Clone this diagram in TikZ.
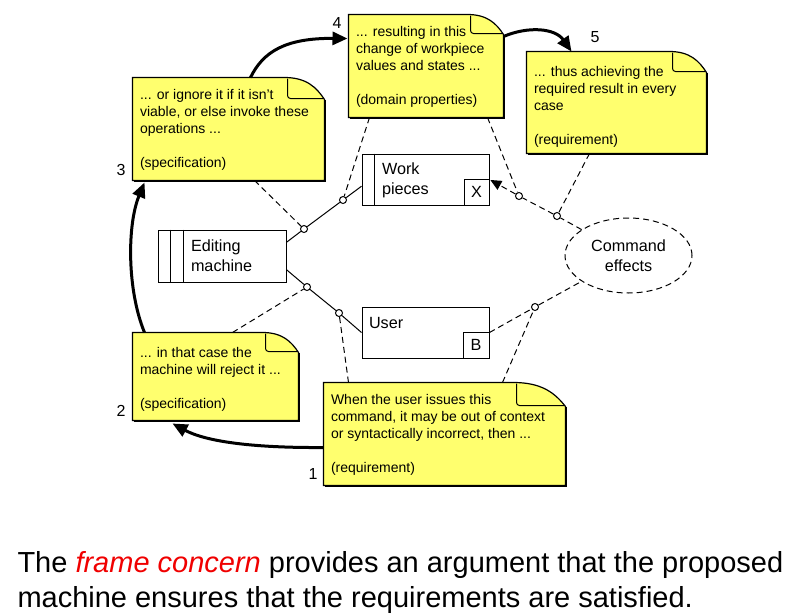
\documentclass[tikz,border=0pt]{standalone}
\usepackage{fontspec}
\setmainfont{Liberation Sans}
\usetikzlibrary{arrows.meta,calc,shapes.geometric}
\definecolor{notefill}{RGB}{255,255,110}
\definecolor{concern}{RGB}{240,0,0}

% note outline with a turned-down corner: node, fold width, fold height
\newcommand{\dogear}[3]{%
  \fill[notefill, draw=black, line width=1.2pt] (#1.north west) -- ($(#1.north east)+(-#2,0)$)
    .. controls ($(#1.north east)+(-0.45*#2,0)$) and ($(#1.north east)+(-0.2*#2,0.45*#3)$) .. ($(#1.north east)+(0,#3)$)
    -- (#1.south east) -- (#1.south west) -- cycle;
  \draw[line width=1pt, rounded corners=3pt] ($(#1.north east)+(-#2+3,1)$) -- ($(#1.north east)+(-#2+3,#3-1)$) -- ($(#1.north east)+(-1,#3-1)$);
  \draw[line width=1.3pt] ($(#1.south west)+(1,1)$) -- ($(#1.south east)+(1,1)$) -- ($(#1.north east)+(1,#3)$);
}

\begin{document}
\begin{tikzpicture}[x=1pt, y=-1pt, line width=1pt,
  note/.style={inner sep=0pt},
  notetext/.style={anchor=north west, inner sep=0pt, align=left, font=\fontsize{14}{17}\selectfont},
  box/.style={draw, inner sep=0pt, minimum height=52pt},
  boxtext/.style={anchor=north west, inner sep=0pt, align=left, font=\fontsize{16.2}{19.5}\selectfont},
  tag/.style={draw, inner sep=0pt, minimum size=26pt, font=\fontsize{16.2}{19.5}\selectfont},
  joint/.style={circle, draw, fill=white, inner sep=0pt, minimum size=7pt},
  link/.style={dash pattern=on 6pt off 4pt},
  flow/.style={line width=3pt, -{Triangle[length=15pt,width=13pt]}},
  num/.style={font=\fontsize{16}{19}\selectfont}]
  \useasboundingbox (0,0) rectangle (788,616);

  % notes
  \node[note, minimum width=191pt, minimum height=102pt] (spec3) at (228.5,129) {};
  \node[note, minimum width=154pt, minimum height=102pt] (dom4) at (426,66) {};
  \node[note, minimum width=179pt, minimum height=101pt] (req5) at (616.5,102.5) {};
  \node[note, minimum width=165pt, minimum height=87pt] (spec2) at (215.5,376.5) {};
  \node[note, minimum width=241pt, minimum height=102pt] (req1) at (444.5,434) {};
  \dogear{spec3}{40}{22}
  \dogear{dom4}{36}{20}
  \dogear{req5}{37}{21}
  \dogear{spec2}{36}{20}
  \dogear{req1}{52}{24}
  \node[notetext] (spec3t) at ($(spec3.north west)+(7,9.6)$) {\strut... or ignore it if it isn't\\viable, or else invoke these\\operations ...\\[17pt](specification)};
  \node[notetext] (dom4t) at ($(dom4.north west)+(7,9.6)$) {\strut... resulting in this\\change of workpiece\\values and states ...\\[17pt](domain properties)};
  \node[notetext] (req5t) at ($(req5.north west)+(7,12.6)$) {\strut... thus achieving the\\required result in every\\case\\[17pt](requirement)};
  \node[notetext] (spec2t) at ($(spec2.north west)+(7,12.6)$) {\strut... in that case the\\machine will reject it ...\\[17pt](specification)};
  \node[notetext] (req1t) at ($(req1.north west)+(7,9.6)$) {\strut When the user issues this\\command, it may be out of context\\or syntactically incorrect, then ...\\[17pt](requirement)};

  % domains
  \node[box, minimum width=128pt] (edit) at (222,256) {};
  \draw ($(edit.north west)+(13,0)$) -- ($(edit.south west)+(13,0)$);
  \draw ($(edit.north west)+(26,0)$) -- ($(edit.south west)+(26,0)$);
  \node[boxtext] (editt) at ($(edit.north west)+(33,7.9)$) {\strut Editing\\machine};
  \node[box, minimum width=127pt, minimum height=51pt] (work) at (425.5,179.5) {};
  \draw ($(work.north west)+(13,0)$) -- ($(work.south west)+(13,0)$);
  \node[boxtext] (workt) at ($(work.north west)+(20,6.9)$) {\strut Work\\pieces};
  \node[tag, anchor=south east, minimum width=25pt] (workx) at (work.south east) {X};
  \node[box, minimum width=127pt, minimum height=51pt] (user) at (425.5,332.5) {};
  \node[boxtext] (usert) at ($(user.north west)+(7,7.9)$) {\strut User};
  \node[tag, anchor=south east] (userb) at (user.south east) {B};
  \node[ellipse, draw, link, inner sep=2pt, minimum width=127pt, minimum height=75pt,
        align=center, font=\fontsize{16.2}{19.5}\selectfont] (effects) at (628.5,255.5) {Command\\effects};

  % interfaces
  \node[joint] (cA) at (304,229) {};
  \node[joint] (cB) at (343,200) {};
  \node[joint] (cC) at (307,287) {};
  \node[joint] (cD) at (339,313) {};
  \node[joint] (cE) at (535,307) {};
  \node[joint] (cF) at (519,196) {};
  \node[joint] (cG) at (557,216) {};
  \draw (edit.12) -- (cA) -- (cB) -- (work.186);
  \draw (edit.-12) -- (cC) -- (cD) -- (user.west);
  \draw[link] (user.east) -- (cE) -- (effects);
  \draw[link] (effects) -- (cG) -- (cF);
  \draw[link, -{Triangle[length=11pt,width=10pt]}, shorten >=1pt] (cF) -- (work.east);

  % notes to interfaces
  \draw[link] ($(spec3.south west)+(122,0)$) -- (cA);
  \draw[link] ($(dom4.south west)+(21,0)$) -- (cB);
  \draw[link] ($(spec2.north west)+(100,0)$) -- (cC);
  \draw[link] ($(req1.north west)+(25,0)$) -- (cD);
  \draw[link] ($(req1.north west)+(179,0)$) -- (cE);
  \draw[link] ($(dom4.south west)+(139,0)$) -- (cF);
  \draw[link] ($(req5.south west)+(63,0)$) -- (cG);

  % argument steps
  \draw[flow] ($(req1.south west)+(0,-38)$) .. controls (250,448) and (205,441) .. ($(spec2.south west)+(40,3)$);
  \draw[flow] ($(spec2.north west)+(12,0)$) .. controls (127,290) and (127,225) .. ($(spec3.south west)+(12,2)$);
  \draw[flow] ($(spec3.north west)+(118,0)$) .. controls (263,52) and (285,38) .. ($(dom4.north west)+(-1,24)$);
  \draw[flow] ($(dom4.north east)+(0,22)$) .. controls (528,26) and (555,28) .. ($(req5.north west)+(45,0)$);
  \node[num] (n1) at (313,474) {1};
  \node[num] (n2) at (121,411) {2};
  \node[num] (n3) at (121,170) {3};
  \node[num] (n4) at (337,23) {4};
  \node[num] (n5) at (595,37) {5};

  % caption
  \node[anchor=base west, inner sep=0pt, font=\fontsize{29}{35}\selectfont] (cap1) at (17,572)
    {The \textcolor{concern}{\itshape frame concern} provides an argument that the proposed};
  \node[anchor=base west, inner sep=0pt, font=\fontsize{29}{35}\selectfont] (cap2) at (17,607)
    {machine ensures that the requirements are satisfied.};
\end{tikzpicture}
\end{document}
